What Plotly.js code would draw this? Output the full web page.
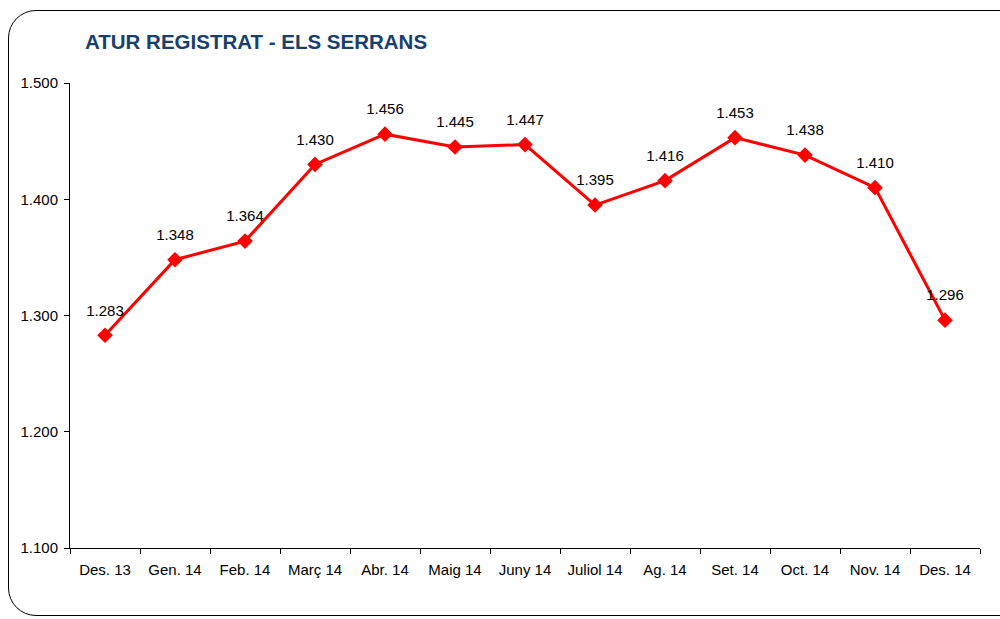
<!DOCTYPE html>
<html>
<head>
<meta charset="utf-8">
<script src="https://cdn.plot.ly/plotly-3.0.1.min.js"></script>
<style>
  html, body { margin: 0; padding: 0; background: #fff; }
  #frame {
    position: absolute; left: 8px; top: 10px; width: 1020px; height: 606px;
    border: 1.5px solid #000; border-radius: 28px; box-sizing: border-box;
  }
  #chart { position: absolute; left: 0; top: 0; width: 1000px; height: 619px; }
</style>
</head>
<body>
<div id="frame"></div>
<div id="chart"></div>
<script>
const months = ['Des. 13', 'Gen. 14', 'Feb. 14', 'Març 14', 'Abr. 14', 'Maig 14', 'Juny 14',
                'Juliol 14', 'Ag. 14', 'Set. 14', 'Oct. 14', 'Nov. 14', 'Des. 14'];
const atur = [1283, 1348, 1364, 1430, 1456, 1445, 1447, 1395, 1416, 1453, 1438, 1410, 1296];

const trace = {
    x: months,
    y: atur,
    type: 'scatter',
    mode: 'lines+markers',
    line: { color: '#ff0000', width: 3 },
    marker: { symbol: 'diamond', size: 12, color: '#ff0000' },
    hoverinfo: 'x+y'
};

// value labels, pushed up by an invisible larger marker
const labels = {
    x: months,
    y: atur,
    type: 'scatter',
    mode: 'markers+text',
    marker: { size: 24, color: 'rgba(0,0,0,0)' },
    texttemplate: '%{y:,d}',
    textposition: 'top center',
    textfont: { family: 'Liberation Sans, Arial, sans-serif', size: 15, color: '#000' },
    cliponaxis: false,
    hoverinfo: 'skip'
};

const layout = {
    width: 1000,
    height: 619,
    margin: { l: 70, r: 20, t: 83, b: 71 },
    paper_bgcolor: 'rgba(0,0,0,0)',
    plot_bgcolor: 'rgba(0,0,0,0)',
    separators: ',.',
    font: { family: 'Liberation Sans, Arial, sans-serif', size: 15, color: '#000' },
    showlegend: false,
    title: {
        text: '<b>ATUR REGISTRAT - ELS SERRANS</b>',
        xref: 'container', yref: 'container',
        x: 0.085, xanchor: 'left',
        y: 1 - 42 / 619, yanchor: 'middle',
        font: { family: 'Liberation Sans, Arial, sans-serif', size: 20.5, color: '#17406d' }
    },
    xaxis: {
        type: 'category',
        range: [-0.5, 12.5],
        showline: true, linecolor: '#000', linewidth: 1,
        ticks: 'outside', ticklen: 5, tickcolor: '#000',
        tickson: 'boundaries',
        ticklabelstandoff: 8,
        showgrid: false, zeroline: false,
        tickfont: { size: 15 }
    },
    yaxis: {
        range: [1100, 1500],
        dtick: 100,
        tickformat: ',d',
        showline: true, linecolor: '#000', linewidth: 1,
        ticks: 'outside', ticklen: 5, tickcolor: '#000',
        ticklabelstandoff: 3,
        showgrid: false, zeroline: false,
        tickfont: { size: 15 }
    }
};

Plotly.newPlot('chart', [trace, labels], layout, { staticPlot: true });
</script>
</body>
</html>
